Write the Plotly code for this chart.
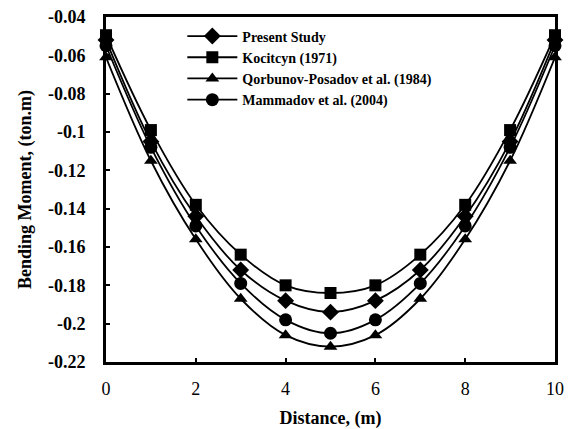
import plotly.graph_objects as go

distance = [0, 1, 2, 3, 4, 5, 6, 7, 8, 9, 10]
present_study = [-0.052, -0.105, -0.144, -0.172, -0.188, -0.194, -0.188, -0.172, -0.144, -0.105, -0.052]
kocitcyn = [-0.0495, -0.099, -0.138, -0.164, -0.180, -0.184, -0.180, -0.164, -0.138, -0.099, -0.0495]
qorbunov = [-0.061, -0.115, -0.156, -0.187, -0.206, -0.212, -0.206, -0.187, -0.156, -0.115, -0.061]
mammadov = [-0.055, -0.108, -0.149, -0.179, -0.198, -0.205, -0.198, -0.179, -0.149, -0.108, -0.055]

series_names = ["Present Study", "Kocitcyn (1971)", "Qorbunov-Posadov et al. (1984)", "Mammadov et al. (2004)"]
series_values = [present_study, kocitcyn, qorbunov, mammadov]
symbols = ["diamond", "square", "triangle-up", "circle"]
sizes = [13, 12, 12, 13]

y_tickvals = [-0.04, -0.06, -0.08, -0.1, -0.12, -0.14, -0.16, -0.18, -0.2, -0.22]
y_ticktext = ["-0.04", "-0.06", "-0.08", "-0.1", "-0.12", "-0.14", "-0.16", "-0.18", "-0.2", "-0.22"]
x_tickvals = [0, 2, 4, 6, 8, 10]

font_family = "Liberation Serif"

fig = go.Figure()
for name, vals, sym, sz in zip(series_names, series_values, symbols, sizes):
    fig.add_trace(go.Scatter(
        x=distance, y=vals, name="<b>" + name + "</b>",
        mode="lines+markers",
        line=dict(color="black", width=1.8, shape="spline", smoothing=1.0),
        marker=dict(symbol=sym, size=sz, color="black"),
        cliponaxis=False,
    ))

fig.update_layout(
    width=564, height=421,
    margin=dict(l=98, r=17, t=9, b=67, autoexpand=False),
    paper_bgcolor="white", plot_bgcolor="white",
    font=dict(family=font_family, color="black"),
    showlegend=True,
    legend=dict(x=0.17, y=0.99, xanchor="left", yanchor="top",
                bgcolor="rgba(0,0,0,0)", font=dict(size=14, family=font_family),
                tracegroupgap=0, itemwidth=50),
)
fig.update_xaxes(
    range=[0, 10], tickvals=x_tickvals, automargin=False,
    ticks="inside", ticklen=4, tickwidth=2, tickcolor="black",
    showline=True, linewidth=3, linecolor="black", mirror=True,
    showgrid=False, zeroline=False,
    tickfont=dict(size=18, family=font_family),
    ticklabelstandoff=8, ticklabeloverflow="allow",
    title=dict(text="<b>Distance, (m)</b>", font=dict(size=18, family=font_family), standoff=21),
    tickprefix="<b>", ticksuffix="</b>",
)
fig.update_yaxes(
    range=[-0.22, -0.04], tickvals=y_tickvals, ticktext=["<b>" + t + "</b>" for t in y_ticktext],
    automargin=False,
    ticks="inside", ticklen=4, tickwidth=2, tickcolor="black",
    showline=True, linewidth=3, linecolor="black", mirror=True,
    showgrid=False, zeroline=False,
    tickfont=dict(size=18, family=font_family),
    ticklabelstandoff=14, ticklabeloverflow="allow",
    title=dict(text="<b>Bending Moment, (ton.m)</b>", font=dict(size=18, family=font_family), standoff=12),
)

fig.write_html("out.html")
